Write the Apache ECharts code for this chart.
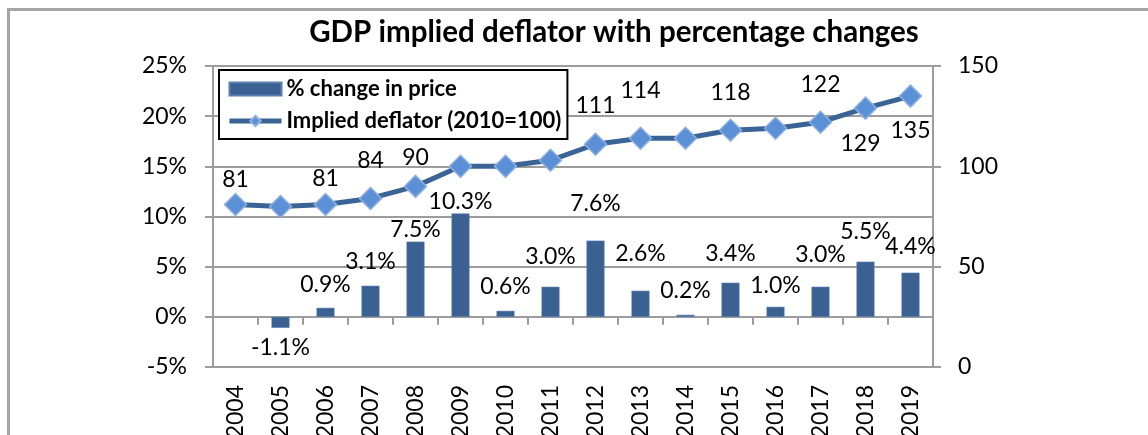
<!DOCTYPE html>
<html>
<head>
<meta charset="utf-8">
<script src="https://cdn.jsdelivr.net/npm/echarts@6/dist/echarts.min.js"></script>
<style>
  html, body { margin: 0; padding: 0; background: #fff; }
  #main { width: 1148px; height: 435px; }
</style>
</head>
<body>
<div id="main"></div>
<script>
// data
const years = ['2004', '2005', '2006', '2007', '2008', '2009', '2010', '2011', '2012', '2013', '2014', '2015', '2016', '2017', '2018', '2019'];
const pctChange = [null, -1.1, 0.9, 3.1, 7.5, 10.3, 0.6, 3.0, 7.6, 2.6, 0.2, 3.4, 1.0, 3.0, 5.5, 4.4];
const deflator = [81, 80, 81, 84, 90, 100, 100, 103, 111, 114, 114, 118, 119, 122, 129, 135];
// which deflator points carry a label in the original
const deflatorLabelled = [true, false, true, true, true, false, false, false, true, true, false, true, false, true, true, true];

// label placement (styling only)
const barLabelDist = [0, 8, 12, 13, 1, 0, 13, 19, 26, 26, 13, 18, 10, 21, 19, 15];
const lineLabelPos = {
  0: ['top', 2], 2: ['top', 3], 3: ['top', 15], 4: ['top', 6], 8: ['top', 15],
  9: ['top', 24], 11: ['top', 14], 13: ['top', 14], 14: ['bottom', 12], 15: ['bottom', 11]
};

const FONT = 'Lato, "Open Sans", sans-serif';
const grey = '#9c9c9c';
const FS = 23;

let myChart = echarts.init(document.getElementById('main'));

const barData = pctChange.map(function (v, i) {
  if (v === null) return null;
  return {
    value: v,
    label: { position: v < 0 ? 'bottom' : 'top', distance: barLabelDist[i] }
  };
});

const lineData = deflator.map(function (v, i) {
  const p = lineLabelPos[i];
  return {
    value: v,
    label: deflatorLabelled[i]
      ? { show: true, position: p[0], distance: p[1], offset: i === 14 ? [-5, 0] : [0, 0] }
      : { show: false }
  };
});

myChart.setOption({
  animation: false,
  textStyle: { fontFamily: FONT },
  graphic: [{
    type: 'rect',
    shape: { x: 8.5, y: 9.5, width: 1200, height: 500 },
    style: { fill: 'none', stroke: '#a6a6a6', lineWidth: 3 },
    silent: true
  }],
  title: {
    text: 'GDP implied deflator with percentage changes',
    left: 609,
    top: 12,
    textAlign: 'center',
    textStyle: { fontFamily: FONT, fontSize: 29.5, fontWeight: 'bold', color: '#000' }
  },
  legend: {
    orient: 'vertical',
    left: 219,
    top: 70,
    padding: [8, 6, 7, 8],
    itemGap: 10,
    itemWidth: 52,
    itemHeight: 13,
    backgroundColor: '#fff',
    borderColor: '#000',
    borderWidth: 2,
    textStyle: { fontFamily: FONT, fontSize: 22, fontWeight: 'bold', color: '#000' },
    data: [
      { name: '% change in price', icon: 'rect' },
      { name: 'Implied deflator (2010=100)', lineStyle: { width: 5, color: '#3b6496' } }
    ]
  },
  grid: { left: 213, right: 215, top: 66, bottom: 68, outerBoundsMode: 'none', containLabel: false },
  xAxis: [{
    type: 'category',
    data: years,
    position: 'bottom',
    axisLine: { onZero: false, lineStyle: { color: grey, width: 2 } },
    axisTick: { show: false },
    axisLabel: { rotate: 90, margin: 18, fontSize: FS, color: '#000', fontFamily: FONT }
  }, {
    type: 'category',
    data: years,
    position: 'top',
    axisLine: { onZero: true, onZeroAxisIndex: 0, lineStyle: { color: grey, width: 2 } },
    axisTick: { show: true, inside: true, length: 8, lineStyle: { color: grey, width: 2 } },
    axisLabel: { show: false }
  }],
  yAxis: [{
    type: 'value',
    min: -5,
    max: 25,
    interval: 5,
    axisLine: { show: true, lineStyle: { color: grey, width: 2 } },
    axisTick: { show: true, length: 8, lineStyle: { color: grey, width: 2 } },
    splitLine: { lineStyle: { color: grey, width: 2 } },
    axisLabel: { formatter: '{value}%', fontSize: FS, color: '#000', margin: 26, fontFamily: FONT }
  }, {
    type: 'value',
    min: 0,
    max: 150,
    interval: 50,
    axisLine: { show: true, lineStyle: { color: grey, width: 2 } },
    axisTick: { show: true, length: 8, lineStyle: { color: grey, width: 2 } },
    splitLine: { show: false },
    axisLabel: { fontSize: FS, color: '#000', margin: 25, fontFamily: FONT }
  }],
  series: [{
    name: '% change in price',
    type: 'bar',
    xAxisIndex: 0,
    yAxisIndex: 0,
    barWidth: 18,
    itemStyle: { color: '#3a6191', borderColor: '#5b80b0', borderWidth: 0.6 },
    label: {
      show: true,
      formatter: function (p) { return p.value.toFixed(1) + '%'; },
      fontSize: FS,
      color: '#000',
      fontFamily: FONT
    },
    data: barData
  }, {
    name: 'Implied deflator (2010=100)',
    type: 'line',
    xAxisIndex: 0,
    yAxisIndex: 1,
    symbol: 'diamond',
    symbolSize: 22,
    lineStyle: { color: '#3b6496', width: 5 },
    itemStyle: { color: '#5b8fd6', borderColor: '#8db0e0', borderWidth: 1.5 },
    label: { fontSize: FS, color: '#000', fontFamily: FONT },
    z: 3,
    data: lineData
  }]
});
</script>
</body>
</html>
